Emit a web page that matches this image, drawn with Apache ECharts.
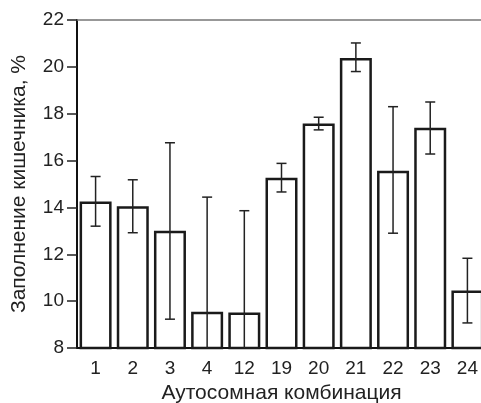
<!DOCTYPE html>
<html style="height: 100%">
<head>
    <meta charset="utf-8">
</head>
<body style="height: 100%; margin: 0; background: #fff">
<div id="container" style="width: 481px; height: 403px"></div>

<script src="https://cdn.jsdelivr.net/npm/echarts@6/dist/echarts.min.js"></script>
<script type="text/javascript">
    var categories = ['1', '2', '3', '4', '12', '19', '20', '21', '22', '23', '24'];
    var means = [14.25, 14.05, 13.0, 9.55, 9.52, 15.27, 17.58, 20.38, 15.57, 17.4, 10.45];
    var upper = [15.32, 15.18, 16.76, 14.44, 13.86, 15.88, 17.85, 21.02, 18.3, 18.5, 11.83];
    var lower = [13.2, 12.92, 9.23, 4.66, 5.2, 14.66, 17.31, 19.8, 12.9, 16.28, 9.07];
    var yTicks = [8, 10, 12, 14, 16, 18, 20, 22];

    var font = 'Liberation Sans';
    var dom = document.getElementById('container');
    var myChart = echarts.init(dom, null, { renderer: 'canvas' });

    var errorData = categories.map(function (c, i) {
        return [i, lower[i], upper[i]];
    });

    var option = {
        animation: false,
        grid: { left: 77, top: 20, right: -5, bottom: 55, outerBoundsMode: 'none', containLabel: false },
        xAxis: [
            {
                type: 'category',
                data: categories,
                name: 'Аутосомная комбинация',
                nameLocation: 'middle',
                nameGap: 34,
                nameTextStyle: { fontFamily: font, fontSize: 21, color: '#222' },
                axisLine: { lineStyle: { color: '#111', width: 2 } },
                axisTick: { alignWithLabel: true, length: 9, lineStyle: { color: '#222', width: 1.5 } },
                axisLabel: { fontFamily: font, fontSize: 19, color: '#222', margin: 11 }
            },
            {
                type: 'category',
                data: categories,
                position: 'top',
                axisLine: { lineStyle: { color: '#777', width: 1.5 } },
                axisTick: { show: false },
                axisLabel: { show: false }
            }
        ],
        yAxis: {
            type: 'value',
            min: yTicks[0],
            max: yTicks[yTicks.length - 1],
            interval: 2,
            name: 'Заполнение кишечника, %',
            nameLocation: 'middle',
            nameGap: 47,
            nameTextStyle: { fontFamily: font, fontSize: 21, color: '#222' },
            axisLine: { show: true, lineStyle: { color: '#111', width: 2 } },
            axisTick: { show: true, length: 10, lineStyle: { color: '#222', width: 1.5 } },
            axisLabel: { fontFamily: font, fontSize: 19, color: '#222', margin: 13 },
            splitLine: { show: false }
        },
        series: [
            {
                type: 'bar',
                data: means,
                barWidth: 32,
                itemStyle: { color: '#fff', borderColor: '#1a1a1a', borderWidth: 2.5 }
            },
            {
                type: 'custom',
                clip: true,
                data: errorData,
                renderItem: function (params, api) {
                    var x = api.value(0);
                    var lo = api.coord([x, api.value(1)]);
                    var hi = api.coord([x, api.value(2)]);
                    var hw = 5;
                    var style = { stroke: '#222', lineWidth: 1.5 };
                    return {
                        type: 'group',
                        children: [
                            { type: 'line', shape: { x1: hi[0], y1: hi[1], x2: lo[0], y2: lo[1] }, style: style },
                            { type: 'line', shape: { x1: hi[0] - hw, y1: hi[1], x2: hi[0] + hw, y2: hi[1] }, style: style },
                            { type: 'line', shape: { x1: lo[0] - hw, y1: lo[1], x2: lo[0] + hw, y2: lo[1] }, style: style }
                        ]
                    };
                },
                z: 3
            }
        ]
    };

    if (option && typeof option === 'object') {
        myChart.setOption(option);
    }
</script>
</body>
</html>
